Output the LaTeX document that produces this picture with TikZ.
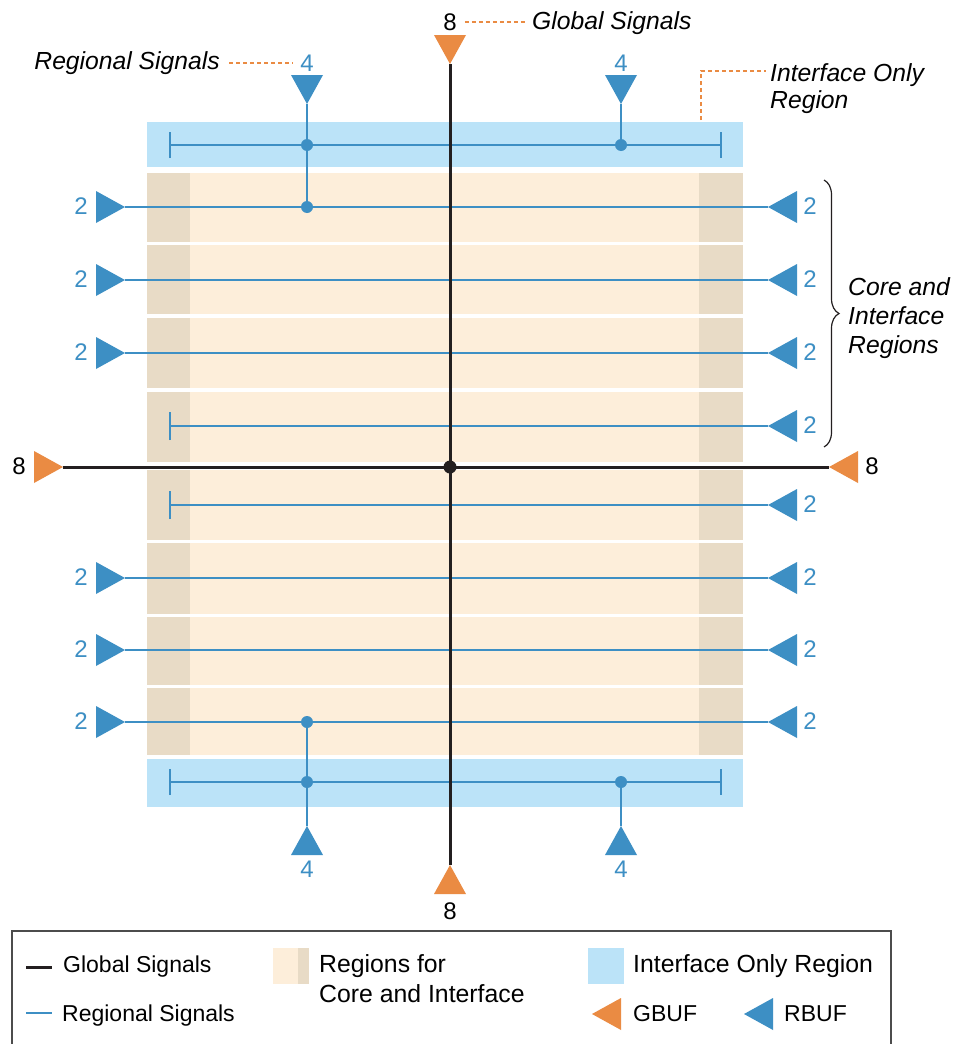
\documentclass[tikz,border=0pt]{standalone}
\usepackage{fontspec}
\setmainfont{Liberation Sans}
\usetikzlibrary{arrows.meta,decorations.pathreplacing}
\definecolor{rblue}{HTML}{3D8FC4}
\definecolor{gorange}{HTML}{EA8B43}
\definecolor{ifblue}{HTML}{BBE3F8}
\definecolor{coretan}{HTML}{FDEEDA}
\definecolor{coredark}{HTML}{E8DBC6}
\definecolor{gblack}{HTML}{231F20}
\tikzset{font=\fontsize{24}{29}\selectfont}
\tikzset{every node/.append style={inner sep=0pt}}
\tikzset{
  gsig/.style={gblack, line width=3pt},
  rsig/.style={rblue, line width=2pt},
  leader/.style={gorange, line width=1.6pt, dash pattern=on 4pt off 3pt},
  numlabel/.style={rblue, anchor=base},
  callout/.style={anchor=base west, font=\fontsize{24.7}{29}\selectfont\itshape},
  legend/.style={anchor=base west, font=\fontsize{23}{28}\selectfont},
  biglegend/.style={anchor=base west, font=\fontsize{24.8}{29}\selectfont},
  barstart/.style={{Bar[width=28pt]}-},
  barboth/.style={{Bar[width=26pt]}-{Bar[width=26pt]}},
  buf/.pic={\fill (0,0) -- (-29,16) -- (-29,-16) -- cycle;}
}

\begin{document}
\begin{tikzpicture}[x=1pt,y=-1pt]
  \useasboundingbox (0,0) rectangle (954,1044);
  \fill[white] (0,0) rectangle (954,1044);

  % interface only region and core/interface rows
  \fill[ifblue] (147,122) rectangle (743,167);
  \fill[ifblue] (147,759) rectangle (743,807);
  \foreach \t/\b in {173/242,245/314,318/388,392/462,470/540,543/614,617/685,688/755}{
    \fill[coretan] (147,\t) rectangle (743,\b);
    \fill[coredark] (147,\t) rectangle (190,\b);
    \fill[coredark] (699,\t) rectangle (743,\b);
  }

  % regional signals, both sides
  \foreach \y/\n in {207/1,280/2,353/3,578/6,650/7,722/8}{
    \coordinate (rL\n) at (125,\y);
    \coordinate (rR\n) at (768,\y);
    \draw[rsig] (rL\n) -- (rR\n);
    \pic[rblue] at (rL\n) {buf};
    \pic[rblue,rotate=180] at (rR\n) {buf};
    \node[numlabel] (twoL\n) at (81,\y+7) {2};
    \node[numlabel] (twoR\n) at (810,\y+7) {2};
  }
  \foreach \y/\n in {426/4,505/5}{
    \coordinate (rL\n) at (169,\y);
    \coordinate (rR\n) at (768,\y);
    \draw[rsig,barstart] (rL\n) -- (rR\n);
    \pic[rblue,rotate=180] at (rR\n) {buf};
    \node[numlabel] (twoR\n) at (810,\y+7) {2};
  }

  % top interface band
  \coordinate (topW) at (169,145);
  \coordinate (topE) at (722,145);
  \coordinate (topA) at (307,145);
  \coordinate (topB) at (621,145);
  \coordinate (rowA) at (307,207);
  \coordinate (inTA) at (307,104);
  \coordinate (inTB) at (621,104);
  \draw[rsig,barboth] (topW) -- (topE);
  \draw[rsig] (inTA) -- (rowA);
  \draw[rsig] (inTB) -- (topB);
  \foreach \p in {topA,topB,rowA} \fill[rblue] (\p) circle (6);
  \pic[rblue,rotate=-90] at (inTA) {buf};
  \pic[rblue,rotate=-90] at (inTB) {buf};
  \node[numlabel] (fourTA) at (307,71) {4};
  \node[numlabel] (fourTB) at (621,71) {4};

  % bottom interface band
  \coordinate (botW) at (169,782);
  \coordinate (botE) at (722,782);
  \coordinate (botA) at (307,782);
  \coordinate (botB) at (621,782);
  \coordinate (rowB) at (307,722);
  \coordinate (inBA) at (307,826);
  \coordinate (inBB) at (621,826);
  \draw[rsig,barboth] (botW) -- (botE);
  \draw[rsig] (rowB) -- (inBA);
  \draw[rsig] (botB) -- (inBB);
  \foreach \p in {botA,botB,rowB} \fill[rblue] (\p) circle (6);
  \pic[rblue,rotate=90] at (inBA) {buf};
  \pic[rblue,rotate=90] at (inBB) {buf};
  \node[numlabel] (fourBA) at (307,877) {4};
  \node[numlabel] (fourBB) at (621,877) {4};

  % global signals
  \coordinate (gN) at (450,64);
  \coordinate (gS) at (450,865);
  \coordinate (gW) at (63,467);
  \coordinate (gE) at (829,467);
  \coordinate (gC) at (450,467);
  \draw[gsig] (gN) -- (gS);
  \draw[gsig] (gW) -- (gE);
  \fill[gblack] (gC) circle (6.5);
  \pic[gorange,rotate=-90] at (gN) {buf};
  \pic[gorange,rotate=90] at (gS) {buf};
  \pic[gorange] at (gW) {buf};
  \pic[gorange,rotate=180] at (gE) {buf};
  \node[anchor=base] (eightN) at (450,30) {8};
  \node[anchor=base] (eightS) at (450,919) {8};
  \node[anchor=base] (eightW) at (19,474) {8};
  \node[anchor=base] (eightE) at (872,474) {8};

  % callouts
  \node[callout] (globalText) at (532,29) {Global Signals};
  \draw[leader,shorten <=8pt,shorten >=6pt] (eightN.east) -- (eightN.east -| globalText.west);
  \node[callout,anchor=base east] (regionalText) at (220,69) {Regional Signals};
  \draw[leader,shorten <=9pt,shorten >=8pt] (fourTA.west -| regionalText.east) -- (fourTA.west);
  \node[callout] (ifText) at (770,81) {Interface Only};
  \node[callout] (ifText2) at (770,108) {Region};
  \coordinate (ifFoot) at (701,120);
  \coordinate (ifBend) at (701,71);
  \draw[leader,shorten >=4pt] (ifFoot) -- (ifBend) -- (ifBend -| ifText.west);

  \coordinate (brTop) at (824,180);
  \coordinate (brBot) at (824,447);
  \draw[gblack,line width=1.2pt,decorate,decoration={brace,amplitude=15pt}] (brTop) -- (brBot);
  \node[callout] (coreText) at (848,295) {Core and};
  \node[callout] (coreText2) at (848,324) {Interface};
  \node[callout] (coreText3) at (848,353) {Regions};

  % legend
  \draw[gray!60!black,line width=1.5pt] (12,931) rectangle (891,1070);
  \coordinate (lgGa) at (26,967);
  \coordinate (lgGb) at (52,967);
  \draw[gsig] (lgGa) -- (lgGb);
  \node[legend] (lgGlobal) at (63,972) {Global Signals};
  \coordinate (lgRa) at (26,1013);
  \coordinate (lgRb) at (52,1013);
  \draw[rsig] (lgRa) -- (lgRb);
  \node[legend] (lgRegional) at (62,1021) {Regional Signals};
  \fill[coretan] (273,948) rectangle (309,984);
  \fill[coredark] (298,948) rectangle (309,984);
  \node[biglegend] (lgCore) at (319,972) {Regions for};
  \node[biglegend] (lgCore2) at (319,1002) {Core and Interface};
  \fill[ifblue] (588,948) rectangle (624,984);
  \node[biglegend] (lgIf) at (633,972) {Interface Only Region};
  \pic[gorange,rotate=180] at (592,1014) {buf};
  \node[legend] (lgG) at (633,1021) {GBUF};
  \pic[rblue,rotate=180] at (744,1014) {buf};
  \node[legend] (lgR) at (784,1021) {RBUF};
\end{tikzpicture}
\end{document}
